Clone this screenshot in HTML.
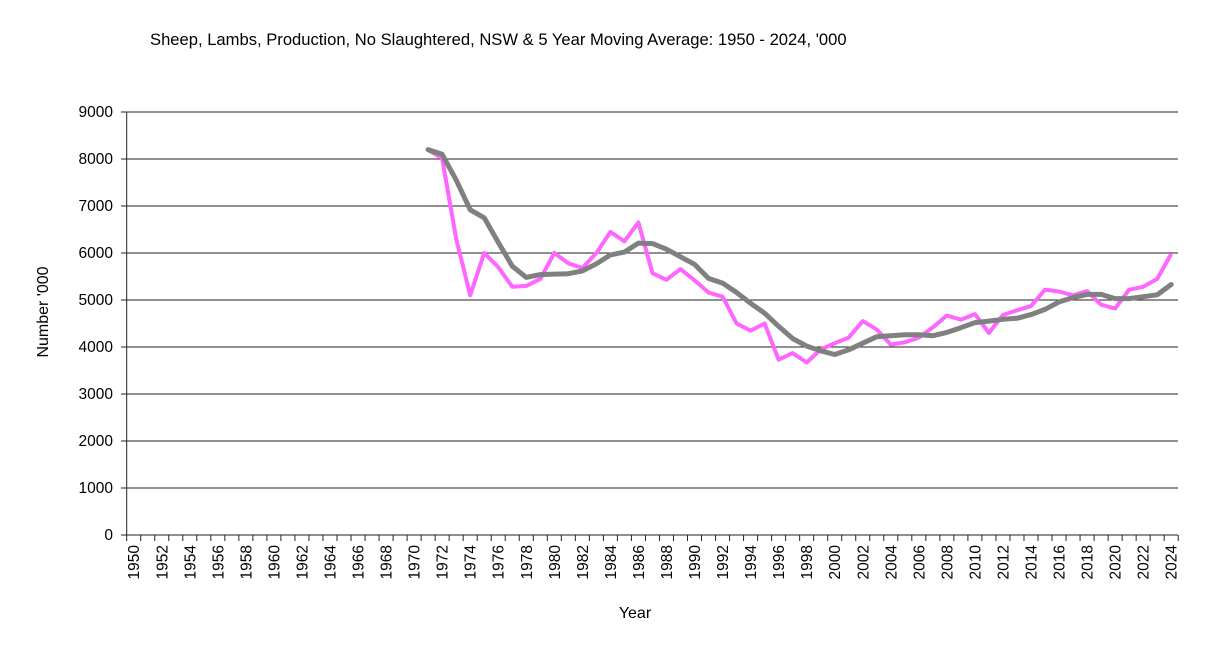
<!DOCTYPE html>
<html><head><meta charset="utf-8"><style>
body{margin:0;background:#fff;}
svg text{font-family:"Liberation Sans",Arial,sans-serif;fill:#000;}
</style></head><body>
<svg id="c" width="1206" height="666" xmlns="http://www.w3.org/2000/svg">
<text x="150" y="45" font-size="16.6">Sheep, Lambs, Production, No Slaughtered, NSW &amp; 5 Year Moving Average: 1950 - 2024, '000</text>
<text transform="translate(48,312) rotate(-90)" font-size="16" text-anchor="middle">Number '000</text>
<text x="635" y="618" font-size="16" text-anchor="middle">Year</text>
<g id="g"></g>
</svg>
<script>
var NS="http://www.w3.org/2000/svg",g=document.getElementById('g');
function el(t,a,txt){var e=document.createElementNS(NS,t);for(var k in a)e.setAttribute(k,a[k]);if(txt!==undefined)e.textContent=txt;g.appendChild(e);return e;}
var x0=126.7,w=14.02,y0=535,k=0.047;
function X(i){return x0+w*(i+0.5);}function Y(v){return y0-v*k;}
for(var v=0;v<=9000;v+=1000){var y=Y(v);
 if(v>0)el('line',{x1:126.7,x2:1178,y1:y,y2:y,stroke:'#222','stroke-width':1});
 el('line',{x1:121,x2:126.7,y1:y,y2:y,stroke:'#222'});
 el('text',{x:113,y:y+5,'font-size':15.5,'text-anchor':'end'},String(v));}
el('line',{x1:126.7,x2:126.7,y1:112,y2:535,stroke:'#222'});
el('line',{x1:126.7,x2:1178,y1:535,y2:535,stroke:'#222'});
for(var i=0;i<=75;i++){var x=x0+w*i;el('line',{x1:x,x2:x,y1:535,y2:541,stroke:'#222'});}
for(var i=0;i<75;i+=2){var x=X(i);el('text',{transform:'translate('+(x+5.5)+',545) rotate(-90)','font-size':15.5,'text-anchor':'end'},String(1950+i));}
var pink=[8190,8020,6300,5100,6000,5700,5280,5300,5450,6000,5780,5680,6000,6450,6250,6650,5570,5430,5660,5420,5160,5070,4500,4350,4500,3730,3870,3670,3950,4080,4200,4550,4370,4050,4100,4200,4420,4670,4580,4700,4300,4680,4780,4870,5220,5180,5100,5190,4900,4820,5220,5280,5450,5980];
var gray=[8200,8100,7550,6920,6750,6230,5720,5480,5540,5550,5560,5620,5770,5960,6020,6210,6200,6080,5920,5760,5460,5360,5160,4930,4720,4440,4180,4020,3920,3840,3940,4080,4220,4240,4260,4260,4240,4310,4410,4520,4550,4590,4610,4690,4800,4960,5050,5120,5120,5030,5030,5070,5110,5330];
function pts(a){return a.map(function(v,j){return X(21+j).toFixed(1)+','+Y(v).toFixed(1);}).join(' ');}
el('polyline',{points:pts(pink),fill:'none',stroke:'#ff66ff','stroke-width':4,'stroke-linejoin':'round'});
el('polyline',{points:pts(gray),fill:'none',stroke:'#808080','stroke-width':5,'stroke-linejoin':'round','stroke-linecap':'round'});
</script>
</body></html>
